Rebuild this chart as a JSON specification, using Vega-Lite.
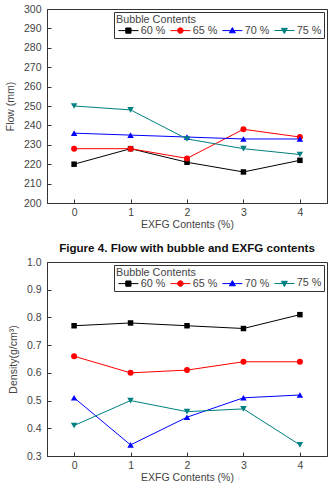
{
  "$schema": "https://vega.github.io/schema/vega-lite/v6.json",
  "background": "white",
  "padding": {"left": 4, "top": 3, "right": 4, "bottom": 0},
  "spacing": 0,
  "datasets": {
    "flow": [
      {"exfg": 0, "bubble": "60 %", "value": 220},
      {"exfg": 1, "bubble": "60 %", "value": 228},
      {"exfg": 2, "bubble": "60 %", "value": 221},
      {"exfg": 3, "bubble": "60 %", "value": 216},
      {"exfg": 4, "bubble": "60 %", "value": 222},
      {"exfg": 0, "bubble": "65 %", "value": 228},
      {"exfg": 1, "bubble": "65 %", "value": 228},
      {"exfg": 2, "bubble": "65 %", "value": 223},
      {"exfg": 3, "bubble": "65 %", "value": 238},
      {"exfg": 4, "bubble": "65 %", "value": 234},
      {"exfg": 0, "bubble": "70 %", "value": 236},
      {"exfg": 1, "bubble": "70 %", "value": 235},
      {"exfg": 2, "bubble": "70 %", "value": 234},
      {"exfg": 3, "bubble": "70 %", "value": 233},
      {"exfg": 4, "bubble": "70 %", "value": 233},
      {"exfg": 0, "bubble": "75 %", "value": 250},
      {"exfg": 1, "bubble": "75 %", "value": 248},
      {"exfg": 2, "bubble": "75 %", "value": 233},
      {"exfg": 3, "bubble": "75 %", "value": 228},
      {"exfg": 4, "bubble": "75 %", "value": 225}
    ],
    "density": [
      {"exfg": 0, "bubble": "60 %", "value": 0.77},
      {"exfg": 1, "bubble": "60 %", "value": 0.78},
      {"exfg": 2, "bubble": "60 %", "value": 0.77},
      {"exfg": 3, "bubble": "60 %", "value": 0.76},
      {"exfg": 4, "bubble": "60 %", "value": 0.81},
      {"exfg": 0, "bubble": "65 %", "value": 0.66},
      {"exfg": 1, "bubble": "65 %", "value": 0.60},
      {"exfg": 2, "bubble": "65 %", "value": 0.61},
      {"exfg": 3, "bubble": "65 %", "value": 0.64},
      {"exfg": 4, "bubble": "65 %", "value": 0.64},
      {"exfg": 0, "bubble": "70 %", "value": 0.51},
      {"exfg": 1, "bubble": "70 %", "value": 0.34},
      {"exfg": 2, "bubble": "70 %", "value": 0.44},
      {"exfg": 3, "bubble": "70 %", "value": 0.51},
      {"exfg": 4, "bubble": "70 %", "value": 0.52},
      {"exfg": 0, "bubble": "75 %", "value": 0.41},
      {"exfg": 1, "bubble": "75 %", "value": 0.50},
      {"exfg": 2, "bubble": "75 %", "value": 0.46},
      {"exfg": 3, "bubble": "75 %", "value": 0.47},
      {"exfg": 4, "bubble": "75 %", "value": 0.34}
    ]
  },
  "config": {
    "font": "Liberation Sans",
    "view": {"stroke": "#333", "strokeWidth": 1},
    "axis": {
      "grid": false,
      "domainColor": "#333",
      "tickColor": "#333",
      "tickSize": -4,
      "labelColor": "#444",
      "titleColor": "#444",
      "labelFont": "Liberation Sans",
      "titleFont": "Liberation Sans",
      "labelFontSize": 10.5,
      "titleFontSize": 10.5,
      "titleFontWeight": "normal"
    },
    "axisY": {"labelPadding": 10, "titlePadding": 8},
    "axisX": {"labelPadding": 8, "titlePadding": 2, "labelFlush": false},
    "legend": {
      "orient": "top-right",
      "offset": 3,
      "direction": "horizontal",
      "columns": 4,
      "padding": 2,
      "strokeColor": "#333",
      "fillColor": "white",
      "titleFont": "Liberation Sans",
      "labelFont": "Liberation Sans",
      "titleFontSize": 10.8,
      "labelFontSize": 10.8,
      "titleFontWeight": "normal",
      "titleColor": "#444",
      "labelColor": "#444",
      "titlePadding": 0,
      "rowPadding": 0,
      "columnPadding": 2,
      "labelOffset": 14,
      "symbolSize": 36,
      "symbolStrokeWidth": 1
    },
    "point": {"filled": true, "opacity": 1},
    "title": {"font": "Liberation Sans", "fontWeight": "bold", "fontSize": 11.6, "color": "#111"}
  },
  "resolve": {"scale": {"color": "independent"}, "legend": {"color": "independent"}},
  "vconcat": [
    {
      "width": 280,
      "height": 194,
      "title": {"text": "Figure 4. Flow with bubble and EXFG contents", "orient": "bottom", "offset": 13, "anchor": "middle"},
      "data": {"name": "flow"},
      "encoding": {
        "x": {"field": "exfg", "type": "quantitative", "title": "EXFG Contents (%)",
              "scale": {"domain": [-0.48, 4.48], "nice": false, "zero": false},
              "axis": {"values": [0, 1, 2, 3, 4], "format": "d"}},
        "y": {"field": "value", "type": "quantitative", "title": "Flow (mm)",
              "scale": {"domain": [200, 300], "nice": false, "zero": false},
              "axis": {"values": [200, 210, 220, 230, 240, 250, 260, 270, 280, 290, 300]}}
      },
      "layer": [
        {
          "mark": {"type": "line", "strokeWidth": 1},
          "encoding": {
            "color": {"field": "bubble", "type": "nominal", "title": "Bubble Contents",
                      "scale": {"domain": ["60 %", "65 %", "70 %", "75 %"], "range": ["#000000", "#ff0000", "#0000ff", "#008080"]},
                      "legend": {
                        "encode": {"symbols": {"update": {
                          "shape": {"signal": "datum.value === '60 %' ? 'M-1,0H5.67M1.46,-0.87H3.2V0.87H1.46Z' : datum.value === '65 %' ? 'M-1,0H5.67M1.4,0A0.93,0.93 0 1,0 3.26,0A0.93,0.93 0 1,0 1.4,0Z' : datum.value === '70 %' ? 'M-1,0H5.67M2.33,-1L3.33,0.73H1.33Z' : 'M-1,0H5.67M2.33,1L3.33,-0.73H1.33Z'"},
                          "fill": {"signal": "datum.value === '60 %' ? '#000000' : datum.value === '65 %' ? '#ff0000' : datum.value === '70 %' ? '#0000ff' : '#008080'"},
                          "stroke": {"signal": "datum.value === '60 %' ? '#000000' : datum.value === '65 %' ? '#ff0000' : datum.value === '70 %' ? '#0000ff' : '#008080'"},
                          "strokeWidth": {"value": 1},
                          "opacity": {"value": 1}
                        }}}
                      }}
          }
        },
        {"transform": [{"filter": "datum.bubble === '60 %'"}], "mark": {"type": "point", "shape": "square", "size": 30, "color": "#000000"}},
        {"transform": [{"filter": "datum.bubble === '65 %'"}], "mark": {"type": "point", "shape": "circle", "size": 36, "color": "#ff0000"}},
        {"transform": [{"filter": "datum.bubble === '70 %'"}], "mark": {"type": "point", "shape": "triangle-up", "size": 42, "color": "#0000ff"}},
        {"transform": [{"filter": "datum.bubble === '75 %'"}], "mark": {"type": "point", "shape": "triangle-down", "size": 42, "color": "#008080"}}
      ]
    },
    {
      "width": 280,
      "height": 194,
      "data": {"name": "density"},
      "encoding": {
        "x": {"field": "exfg", "type": "quantitative", "title": "EXFG Contents (%)",
              "scale": {"domain": [-0.48, 4.48], "nice": false, "zero": false},
              "axis": {"values": [0, 1, 2, 3, 4], "format": "d"}},
        "y": {"field": "value", "type": "quantitative", "title": "Density(g/cm³)",
              "scale": {"domain": [0.3, 1.0], "nice": false, "zero": false},
              "axis": {"values": [0.3, 0.4, 0.5, 0.6, 0.7, 0.8, 0.9, 1.0], "format": ".1f"}}
      },
      "layer": [
        {
          "mark": {"type": "line", "strokeWidth": 1},
          "encoding": {
            "color": {"field": "bubble", "type": "nominal", "title": "Bubble Contents",
                      "scale": {"domain": ["60 %", "65 %", "70 %", "75 %"], "range": ["#000000", "#ff0000", "#0000ff", "#008080"]},
                      "legend": {
                        "encode": {"symbols": {"update": {
                          "shape": {"signal": "datum.value === '60 %' ? 'M-1,0H5.67M1.46,-0.87H3.2V0.87H1.46Z' : datum.value === '65 %' ? 'M-1,0H5.67M1.4,0A0.93,0.93 0 1,0 3.26,0A0.93,0.93 0 1,0 1.4,0Z' : datum.value === '70 %' ? 'M-1,0H5.67M2.33,-1L3.33,0.73H1.33Z' : 'M-1,0H5.67M2.33,1L3.33,-0.73H1.33Z'"},
                          "fill": {"signal": "datum.value === '60 %' ? '#000000' : datum.value === '65 %' ? '#ff0000' : datum.value === '70 %' ? '#0000ff' : '#008080'"},
                          "stroke": {"signal": "datum.value === '60 %' ? '#000000' : datum.value === '65 %' ? '#ff0000' : datum.value === '70 %' ? '#0000ff' : '#008080'"},
                          "strokeWidth": {"value": 1},
                          "opacity": {"value": 1}
                        }}}
                      }}
          }
        },
        {"transform": [{"filter": "datum.bubble === '60 %'"}], "mark": {"type": "point", "shape": "square", "size": 30, "color": "#000000"}},
        {"transform": [{"filter": "datum.bubble === '65 %'"}], "mark": {"type": "point", "shape": "circle", "size": 36, "color": "#ff0000"}},
        {"transform": [{"filter": "datum.bubble === '70 %'"}], "mark": {"type": "point", "shape": "triangle-up", "size": 42, "color": "#0000ff"}},
        {"transform": [{"filter": "datum.bubble === '75 %'"}], "mark": {"type": "point", "shape": "triangle-down", "size": 42, "color": "#008080"}}
      ]
    }
  ]
}
